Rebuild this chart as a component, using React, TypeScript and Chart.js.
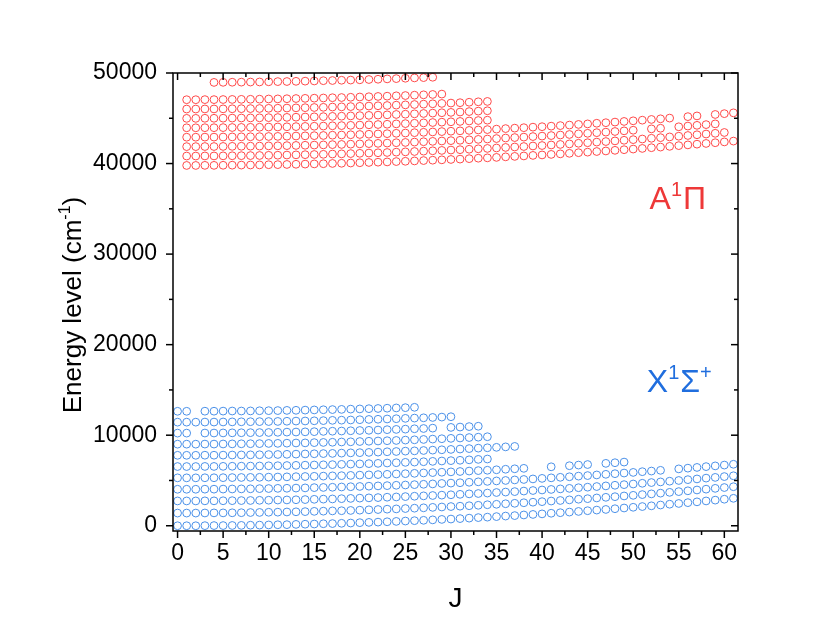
import React, { useEffect, useRef } from "react";
import { Chart, registerables } from "chart.js";

Chart.register(...registerables);

const FONT = "'Liberation Sans', Arial, Helvetica, sans-serif";

// Rotational quantum number J for each array index
const J_VALUES = [
  0, 1, 2, 3, 4, 5, 6, 7, 8, 9, 10, 11, 12, 13, 14, 15, 16, 17, 18, 19, 20, 21, 22, 23, 24, 25, 26, 27, 28, 29,
  30, 31, 32, 33, 34, 35, 36, 37, 38, 39, 40, 41, 42, 43, 44, 45, 46, 47, 48, 49, 50, 51, 52, 53, 54, 55, 56, 57,
  58, 59, 60, 61,
];

// X1Σ+ state levels (cm-1), index = J, null = no level
const X_V0 = [0,0,0,10,20,20,30,40,60,70, 90,110,120,150,170,190,220,240,270,300, 340,370,400,440,480,520,560,600,650,700, 740,790,840,900,950,1010,1070,1120,1190,1250, 1310,1380,1440,1510,1580,1660,1730,1800,1880,1960, 2040,2120,2200,2290,2380,2460,2550,2640,2740,2830, 2930,3030];
const X_V1 = [1400,1400,1400,1410,1420,1420,1430,1440,1460,1470, 1490,1500,1520,1540,1560,1590,1610,1640,1660,1690, 1720,1760,1790,1830,1860,1900,1940,1980,2030,2070, 2120,2160,2210,2260,2320,2370,2430,2480,2540,2600, 2660,2730,2790,2860,2930,2990,3070,3140,3210,3290, 3360,3440,3520,3600,3690,3770,3860,3950,4040,4130, 4220,4310];
const X_V2 = [2740,2740,2740,2750,2750,2760,2770,2780,2790,2810, 2820,2840,2850,2870,2890,2920,2940,2960,2990,3020, 3050,3080,3110,3150,3180,3220,3260,3300,3340,3380, 3420,3470,3520,3560,3610,3670,3720,3770,3830,3890, 3950,4010,4070,4130,4200,4260,4330,4400,4470,4540, 4610,4690,4770,4840,4920,5000,5090,5170,5260,5340, 5430,5520];
const X_V3 = [4030,4030,4030,4040,4040,4050,4060,4070,4080,4100, 4110,4130,4140,4160,4180,4210,4230,4250,4280,4310, 4340,4370,4400,4430,4470,4500,4540,4580,4620,4670, 4710,4750,4800,4850,4900,4950,5000,5060,5110,5170, 5230,5290,5350,5410,5480,5540,5610,5680,5750,5820, 5890,5970,6040,6120,null,6280,6360,6440,6530,6610, 6700,6790];
const X_V4 = [5290,5290,5290,5300,5300,5310,5320,5330,5340,5350, 5370,5380,5400,5420,5440,5460,5480,5510,5530,5560, 5590,5620,5650,5680,5720,5750,5790,5830,5870,5910, 5950,5990,6040,6090,6130,6180,6240,6290,6340,null, null,6510,null,6630,6700,6760,null,6890,6960,7030];
const X_V5 = [6540,6540,6540,6550,6550,6560,6570,6580,6590,6600, 6620,6630,6650,6670,6690,6710,6730,6750,6780,6810, 6830,6860,6890,6930,6960,7000,7030,7070,7110,7150, 7190,7230,7280,7330,7370];
const X_V6 = [7780,7780,7780,7790,7790,7800,7810,7820,7830,7840, 7860,7870,7890,7910,7930,7950,7970,7990,8020,8050, 8070,8100,8130,8170,8200,8240,8270,8310,8350,8390, 8430,8470,8520,8570,8610,8660,8710,8760];
const X_V7 = [9010,9010,9010,9020,9020,9030,9040,9050,9060,9070, 9090,9100,9120,9140,9150,9180,9200,9220,9250,9270, 9300,9330,9360,9390,9420,9460,9490,9530,9570,9610, 9650,9690,9740,9780,9830];
const X_V8 = [10230,10230,null,10240,10240,10250,10260,10270,10280,10290, 10300,10320,10340,10350,10370,10390,10420,10440,10460,10490, 10520,10540,10570,10610,10640,10670,10710,10740,10780,null, 10860,10900,10950,10990];
const X_V9 = [11440,11440,11440,11450,11450,11460,11470,11480,11490,11500, 11510,11520,11540,11560,11570,11590,11610,11640,11660,11680, 11710,11740,11760,11790,11820,11860,11890,11920,11960,12000, 12040];
const X_V10 = [12640,12640,null,12650,12650,12660,12670,12670,12680,12700, 12710,12720,12740,12750,12770,12790,12810,12830,12850,12880, 12900,12930,12950,12980,13010,13040,13080];

// A1Π state levels (cm-1), index = J
const A_V0 = [null, 39790,39790,39800,39800,39810,39820,39830,39840,39850,39870, 39880,39900,39920,39940,39960,39980,40010,40030,40060,40090, 40120,40150,40180,40220,40250,40290,40330,40370,40410,40450, 40490,40540,40590,40630,40680,40740,40790,40840,40900,40950, 41010,41070,41130,41200,41260,41330,41390,41460,41530,41600, 41670,41750,41820,41900,41980,42060,42140,42220,42300,42390, 42480];
const A_V1 = [null, 40830,40830,40840,40840,40850,40860,40870,40880,40890,40910, 40920,40940,40960,40980,41000,41020,41050,41070,41100,41130, 41160,41190,41220,41260,41290,41330,41370,41410,41450,41490, 41530,41580,41630,41670,41720,41780,41830,41880,41940,41990, 42050,42110,42170,42240,42300,42370,42430,42500,42570,42640, 42710,42790,42860,42940,43020,43100,43180,43260,43340,43430];
const A_V2 = [null, 41870,41870,41880,41880,41890,41900,41910,41920,41930,41950, 41960,41980,42000,42020,42040,42060,42090,42110,42140,42170, 42200,42230,42260,42300,42330,42370,42410,42450,42490,42530, 42570,42620,42670,42710,42760,42820,42870,42920,42980,43030, 43090,43150,43210,43280,43340,43410,43470,43540,43610,43680, null,43830,43900,null,44060,44140,44220,44300,44380];
const A_V3 = [null, 42910,42910,42920,42920,42930,42940,42950,42960,42970,42990, 43000,43020,43040,43060,43080,43100,43130,43150,43180,43210, 43240,43270,43300,43340,43370,43410,43450,43490,43530,43570, 43610,43660,43710,43750,43800,43860,43910,43960,44020,44070, 44130,44190,44250,44320,44380,44450,44510,44580,44650,44720, 44790,44870,44940,45020,null,45180,45260,null,45420,45510, 45600];
const A_V4 = [null, 43950,43950,43960,43960,43970,43980,43990,44000,44010,44030, 44040,44060,44080,44100,44120,44140,44170,44190,44220,44250, 44280,44310,44340,44380,44410,44450,44490,44530,44570,44610, 44650,44700,44750,44790];
const A_V5 = [null, 44990,44990,45000,45000,45010,45020,45030,45040,45050,45070, 45080,45100,45120,45140,45160,45180,45210,45230,45260,45290, 45320,45350,45380,45420,45450,45490,45530,45570,45610,45650, 45690,45740,45790,45830];
const A_V6 = [null, 46020,46020,46030,46030,46040,46050,46060,46070,46080,46100, 46110,46130,46150,46170,46190,46210,46240,46260,46290,46320, 46350,46380,46410,46450,46480,46520,46560,46600,46640,46680, 46720,46770,46820,46860];
const A_V7 = [null, 47050,47050,47060,47060,47070,47080,47090,47100,47110,47130, 47140,47160,47180,47200,47220,47240,47270,47290,47320,47350, 47380,47410,47440,47480,47510,47550,47590,47630,47670];
const A_TOP = [null,null,null,null, 48960,48970,48980,48990,49000,49010,49030,49050,49060,49080,49100,49120,49150,49170,49200,49220,49250,49280,49310,49350,49380,49420,49460,49490,49530];

// Axes
const X_MIN = -0.5;
const X_MAX = 61.5;
const Y_MIN = -580;
const Y_MAX = 50000;
const X_TICKS = [0, 5, 10, 15, 20, 25, 30, 35, 40, 45, 50, 55, 60];
const X_MINOR = [2.5, 7.5, 12.5, 17.5, 22.5, 27.5, 32.5, 37.5, 42.5, 47.5, 52.5, 57.5];
const Y_TICKS = [0, 10000, 20000, 30000, 40000, 50000];
const Y_MINOR = [5000, 15000, 25000, 35000, 45000];

const X_TITLE = "J";
const Y_TITLE_PARTS = ["Energy level (cm", "-1", ")"];

const BLUE = "rgb(74,144,232)";
const RED = "rgb(255,72,72)";
const BLUE_TEXT = "rgb(32,110,222)";
const RED_TEXT = "rgb(238,56,56)";

// state labels: [text, superscript?]
const LABEL_A: [string, boolean][] = [["A", false], ["1", true], ["\u03A0", false]];
const LABEL_X: [string, boolean][] = [["X", false], ["1", true], ["\u03A3", false], ["+", true]];
const LABEL_A_POS = { j: 51.8, e: 34950 };
const LABEL_X_POS = { j: 51.5, e: 14750 };

const X_ROWS = [X_V0, X_V1, X_V2, X_V3, X_V4, X_V5, X_V6, X_V7, X_V8, X_V9, X_V10];
const A_ROWS = [A_V0, A_V1, A_V2, A_V3, A_V4, A_V5, A_V6, A_V7, A_TOP];

function rowsToPoints(rows: (number | null)[][]) {
  const pts: { x: number; y: number }[] = [];
  rows.forEach((row) =>
    row.forEach((e, i) => {
      if (e !== null && e !== undefined) pts.push({ x: J_VALUES[i], y: e });
    })
  );
  return pts;
}

const framePlugin = {
  id: "frameAndText",
  afterDraw(chart: any) {
    const { ctx, chartArea: a, scales } = chart;
    const xs = scales.x;
    const ys = scales.y;
    ctx.save();
    ctx.strokeStyle = "#000";
    ctx.lineWidth = 1.5;
    ctx.strokeRect(a.left, a.top, a.right - a.left, a.bottom - a.top);
    const line = (x1: number, y1: number, x2: number, y2: number) => {
      ctx.beginPath();
      ctx.moveTo(x1, y1);
      ctx.lineTo(x2, y2);
      ctx.stroke();
    };
    const MAJ = 7;
    const MIN = 4;
    X_TICKS.forEach((v) => {
      const p = xs.getPixelForValue(v);
      line(p, a.bottom, p, a.bottom + MAJ);
      line(p, a.top, p, a.top + MAJ);
    });
    X_MINOR.forEach((v) => {
      const p = xs.getPixelForValue(v);
      line(p, a.bottom, p, a.bottom + MIN);
      line(p, a.top, p, a.top + MIN);
    });
    Y_TICKS.forEach((v) => {
      const p = ys.getPixelForValue(v);
      line(a.left, p, a.left - MAJ, p);
      line(a.right, p, a.right - MAJ, p);
    });
    Y_MINOR.forEach((v) => {
      const p = ys.getPixelForValue(v);
      line(a.left, p, a.left - MIN, p);
      line(a.right, p, a.right - MIN, p);
    });

    // x title
    ctx.fillStyle = "#000";
    ctx.font = `28px ${FONT}`;
    ctx.textAlign = "center";
    ctx.textBaseline = "alphabetic";
    ctx.fillText(X_TITLE, (a.left + a.right) / 2, 607);

    // y title (rotated, with superscript)
    const big = `26px ${FONT}`;
    const small = `16px ${FONT}`;
    ctx.textAlign = "left";
    const widths = Y_TITLE_PARTS.map((t, i) => {
      ctx.font = i === 1 ? small : big;
      return ctx.measureText(t).width;
    });
    const total = widths.reduce((s, w) => s + w, 0);
    ctx.save();
    ctx.translate(81, 305);
    ctx.rotate(-Math.PI / 2);
    let cx = -total / 2;
    Y_TITLE_PARTS.forEach((t, i) => {
      ctx.font = i === 1 ? small : big;
      ctx.fillText(t, cx, i === 1 ? -11 : 0);
      cx += widths[i];
    });
    ctx.restore();

    // state labels
    const drawLabel = (parts: [string, boolean][], pos: { j: number; e: number }, color: string) => {
      let x = xs.getPixelForValue(pos.j);
      const y = ys.getPixelForValue(pos.e);
      ctx.fillStyle = color;
      ctx.textAlign = "left";
      ctx.textBaseline = "alphabetic";
      parts.forEach(([t, sup]) => {
        ctx.font = sup ? `20px ${FONT}` : `32px ${FONT}`;
        ctx.fillText(t, x, sup ? y - 13 : y);
        x += ctx.measureText(t).width + (sup ? 1 : 0);
      });
    };
    drawLabel(LABEL_A, LABEL_A_POS, RED_TEXT);
    drawLabel(LABEL_X, LABEL_X_POS, BLUE_TEXT);
    ctx.restore();
  },
};

export default function App() {
  const ref = useRef<HTMLCanvasElement | null>(null);
  useEffect(() => {
    if (!ref.current) return;
    Chart.defaults.font.family = FONT;
    const chart = new Chart(ref.current, {
      type: "scatter",
      data: {
        datasets: [
          {
            label: "X1Σ+",
            data: rowsToPoints(X_ROWS),
            borderColor: BLUE,
            backgroundColor: "rgba(0,0,0,0)",
            pointRadius: 3.9,
            pointBorderWidth: 1,
            pointStyle: "circle",
            showLine: false,
          },
          {
            label: "A1Π",
            data: rowsToPoints(A_ROWS),
            borderColor: RED,
            backgroundColor: "rgba(0,0,0,0)",
            pointRadius: 3.9,
            pointBorderWidth: 1,
            pointStyle: "circle",
            showLine: false,
          },
        ],
      },
      options: {
        animation: false,
        responsive: false,
        devicePixelRatio: 1,
        events: [],
        layout: { padding: { top: 73, right: 92, left: 0, bottom: 0 } },
        plugins: { legend: { display: false }, tooltip: { enabled: false } },
        scales: {
          x: {
            type: "linear",
            position: "bottom",
            min: X_MIN,
            max: X_MAX,
            grid: { display: false, drawTicks: false },
            border: { display: false },
            ticks: {
              color: "#000",
              font: { size: 23, family: FONT },
              padding: 9,
              autoSkip: false,
              maxRotation: 0,
              callback: (v: any) => String(v),
            },
            afterBuildTicks: (s: any) => {
              s.ticks = X_TICKS.map((v) => ({ value: v }));
            },
            afterFit: (s: any) => {
              s.height = 105;
            },
          },
          y: {
            type: "linear",
            position: "left",
            min: Y_MIN,
            max: Y_MAX,
            grid: { display: false, drawTicks: false },
            border: { display: false },
            ticks: {
              color: "#000",
              font: { size: 23, family: FONT },
              padding: 16,
              autoSkip: false,
              callback: (v: any) => String(v),
            },
            afterBuildTicks: (s: any) => {
              s.ticks = Y_TICKS.map((v) => ({ value: v }));
            },
            afterFit: (s: any) => {
              s.width = 173;
            },
          },
        },
      },
      plugins: [framePlugin],
    } as any);
    return () => chart.destroy();
  }, []);
  return (
    <div style={{ position: "fixed", left: 0, top: 0, width: 830, height: 636, background: "#fff" }}>
      <canvas ref={ref} width={830} height={636} style={{ width: 830, height: 636, display: "block" }} />
    </div>
  );
}
